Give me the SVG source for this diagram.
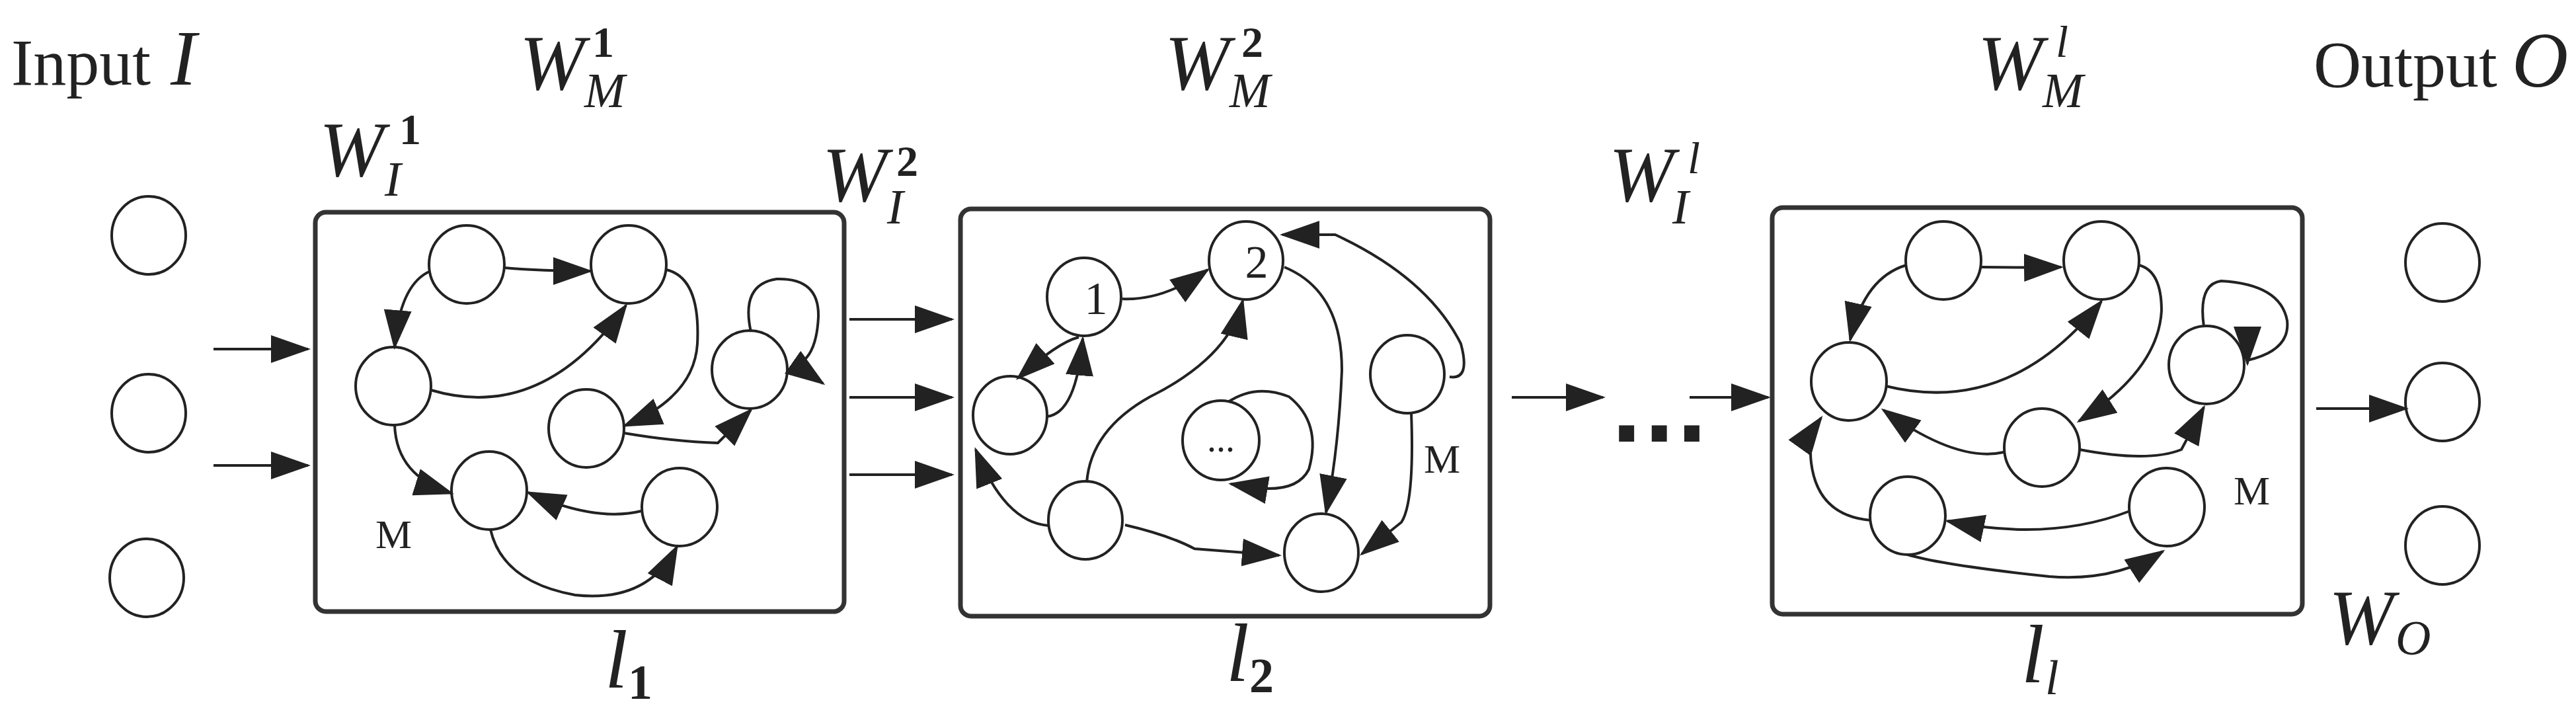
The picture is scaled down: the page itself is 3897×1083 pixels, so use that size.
<svg xmlns="http://www.w3.org/2000/svg" width="3897" height="1083" viewBox="0 0 3897 1083">
<style>
.n{fill:#fff;stroke:#222;stroke-width:4}
.box{fill:#fff;stroke:#333;stroke-width:7}
.e{fill:none;stroke:#222;stroke-width:4;marker-end:url(#ah)}
.t{fill:#222}
.i{font-style:italic}
.b{font-weight:bold}
</style>
<defs>
<marker id="ah" markerUnits="userSpaceOnUse" markerWidth="64" markerHeight="48" refX="56" refY="21" orient="auto">
<path d="M0,0 L60,21 L0,42 z" fill="#222"/>
</marker>
</defs>
<g id="labels" font-family="'Liberation Serif','Times New Roman','DejaVu Serif',serif">
<text class="t" x="17" y="128" font-size="100">Input</text>
<text class="t i" x="258" y="128" font-size="118">I</text>
<text class="t i" x="786" y="135" font-size="118">W</text><text class="t i" x="884" y="162" font-size="74">M</text><text class="t b" x="896" y="86" font-size="66">1</text>
<text class="t i" x="483" y="266" font-size="118">W</text><text class="t i" x="582" y="296" font-size="74">I</text><text class="t b" x="604" y="218" font-size="66">1</text>
<text class="t i" x="1244" y="304" font-size="118">W</text><text class="t i" x="1342" y="338" font-size="74">I</text><text class="t b" x="1356" y="266" font-size="66">2</text>
<text class="t i" x="1762" y="135" font-size="118">W</text><text class="t i" x="1860" y="162" font-size="74">M</text><text class="t b" x="1878" y="86" font-size="66">2</text>
<text class="t i" x="2434" y="304" font-size="118">W</text><text class="t i" x="2530" y="338" font-size="74">I</text><text class="t i" x="2553" y="262" font-size="68">l</text>
<text class="t i" x="2992" y="135" font-size="118">W</text><text class="t i" x="3090" y="162" font-size="74">M</text><text class="t i" x="3110" y="86" font-size="68">l</text>
<text class="t" x="3500" y="131" font-size="100">Output</text>
<text class="t i" x="3800" y="131" font-size="118">O</text>
<text class="t i" x="3523" y="974" font-size="118">W</text><text class="t i" x="3624" y="990" font-size="74">O</text>
<text class="t i" x="915" y="1040" font-size="125">l</text><text class="t b" x="950" y="1057" font-size="74">1</text>
<text class="t i" x="1855" y="1030" font-size="125">l</text><text class="t b" x="1890" y="1047" font-size="74">2</text>
<text class="t i" x="3058" y="1032" font-size="125">l</text><text class="t i" x="3094" y="1050" font-size="74">l</text>
<text class="t b" x="2436" y="668" font-size="130" font-family="'DejaVu Sans',sans-serif">...</text>
</g>
<g id="input">
<ellipse class="n" cx="225" cy="356" rx="56" ry="59"/>
<ellipse class="n" cx="225" cy="625" rx="56" ry="59"/>
<ellipse class="n" cx="222" cy="874" rx="56" ry="59"/>
</g>
<g id="output">
<ellipse class="n" cx="3695" cy="397" rx="56" ry="59"/>
<ellipse class="n" cx="3695" cy="608" rx="56" ry="59"/>
<ellipse class="n" cx="3695" cy="825" rx="56" ry="59"/>
</g>
<g id="layer1" font-family="'Liberation Serif','Times New Roman','DejaVu Serif',serif">
<rect class="box" x="477" y="321" width="800" height="604" rx="16"/>
<ellipse class="n" cx="706" cy="400" rx="57" ry="59"/>
<ellipse class="n" cx="951" cy="400" rx="57" ry="59"/>
<ellipse class="n" cx="595" cy="584" rx="57" ry="59"/>
<ellipse class="n" cx="887" cy="648" rx="57" ry="59"/>
<ellipse class="n" cx="1134" cy="559" rx="57" ry="59"/>
<ellipse class="n" cx="740" cy="742" rx="57" ry="59"/>
<ellipse class="n" cx="1028" cy="767" rx="57" ry="59"/>
<text class="t" x="568" y="829" font-size="62">M</text>
</g>
<g id="layer2" font-family="'Liberation Serif','Times New Roman','DejaVu Serif',serif">
<rect class="box" x="1453" y="316" width="801" height="616" rx="16"/>
<ellipse class="n" cx="1640" cy="449" rx="56" ry="59"/>
<text class="t" x="1658" y="475" font-size="70" text-anchor="middle">1</text>
<ellipse class="n" cx="1885" cy="394" rx="56" ry="59"/>
<text class="t" x="1901" y="420" font-size="70" text-anchor="middle">2</text>
<ellipse class="n" cx="1528" cy="628" rx="56" ry="59"/>
<ellipse class="n" cx="1847" cy="666" rx="58" ry="60"/>
<text class="t" x="1847" y="683" font-size="56" text-anchor="middle">...</text>
<ellipse class="n" cx="1642" cy="787" rx="56" ry="59"/>
<ellipse class="n" cx="1999" cy="836" rx="56" ry="59"/>
<ellipse class="n" cx="2129" cy="566" rx="56" ry="59"/>
<text class="t" x="2154" y="715" font-size="62">M</text>
</g>
<g id="layer3" font-family="'Liberation Serif','Times New Roman','DejaVu Serif',serif">
<rect class="box" x="2681" y="314" width="802" height="615" rx="16"/>
<ellipse class="n" cx="2940" cy="394" rx="57" ry="59"/>
<ellipse class="n" cx="3179" cy="394" rx="57" ry="59"/>
<ellipse class="n" cx="2797" cy="577" rx="57" ry="59"/>
<ellipse class="n" cx="3338" cy="552" rx="57" ry="59"/>
<ellipse class="n" cx="3089" cy="677" rx="57" ry="59"/>
<ellipse class="n" cx="2886" cy="780" rx="57" ry="59"/>
<ellipse class="n" cx="3278" cy="767" rx="57" ry="59"/>
<text class="t" x="3379" y="763" font-size="62">M</text>
</g>
<g id="connectors">
<path class="e" d="M323 528 L466 528"/>
<path class="e" d="M323 704 L466 704"/>
<path class="e" d="M1285 483 L1440 483"/>
<path class="e" d="M1285 601 L1440 601"/>
<path class="e" d="M1285 718 L1440 718"/>
<path class="e" d="M2287 601 L2425 601"/>
<path class="e" d="M2556 601 L2675 601"/>
<path class="e" d="M3504 618 L3640 618"/>
<path class="e" d="M763 405 Q820 410 893 410"/>
<path class="e" d="M651 410 Q605 430 597 525"/>
<path class="e" d="M652 590 Q820 640 947 462"/>
<path class="e" d="M1008 408 Q1060 420 1055 520 Q1050 600 945 644"/>
<path class="e" d="M944 655 Q1020 668 1086 670 L1136 620"/>
<path class="e" d="M1136 502 Q1120 430 1175 422 Q1240 420 1238 480 Q1235 540 1205 552 L1245 580"/>
<path class="e" d="M597 643 Q600 720 683 746"/>
<path class="e" d="M970 773 Q900 790 799 745"/>
<path class="e" d="M742 801 Q760 880 870 900 Q980 912 1024 827"/>
<path class="e" d="M1698 452 Q1760 455 1827 408"/>
<path class="e" d="M1632 510 Q1600 518 1540 572"/>
<path class="e" d="M1584 630 Q1628 625 1638 512"/>
<path class="e" d="M1644 730 Q1650 650 1740 600 Q1860 540 1880 455"/>
<path class="e" d="M1586 795 Q1520 790 1476 680"/>
<path class="e" d="M1702 794 Q1770 810 1807 830 L1935 840"/>
<path class="e" d="M1943 404 Q2030 440 2030 560 Q2025 680 2006 775"/>
<path class="e" d="M2135 625 Q2140 760 2120 790 L2060 838"/>
<path class="e" d="M2193 570 Q2225 575 2210 520 Q2160 420 2020 355 L1940 355"/>
<path class="e" d="M1858 608 Q1900 580 1950 600 Q2000 640 1980 710 Q1960 750 1880 735 L1862 732"/>
<path class="e" d="M2998 404 Q3060 405 3118 404"/>
<path class="e" d="M2884 401 Q2820 420 2799 514"/>
<path class="e" d="M2853 584 Q3040 630 3179 456"/>
<path class="e" d="M3236 401 Q3270 410 3270 470 Q3265 560 3145 637"/>
<path class="e" d="M3031 684 Q2960 700 2849 620"/>
<path class="e" d="M3146 680 Q3250 700 3300 680 L3334 616"/>
<path class="e" d="M3334 494 Q3325 430 3360 425 Q3450 430 3460 485 Q3465 530 3400 545 L3400 550"/>
<path class="e" d="M3222 773 Q3100 820 2946 788"/>
<path class="e" d="M2830 787 Q2750 780 2740 700 Q2735 660 2755 632"/>
<path class="e" d="M2886 839 Q2940 855 3100 872 Q3200 880 3272 834"/>
</g>
</svg>
